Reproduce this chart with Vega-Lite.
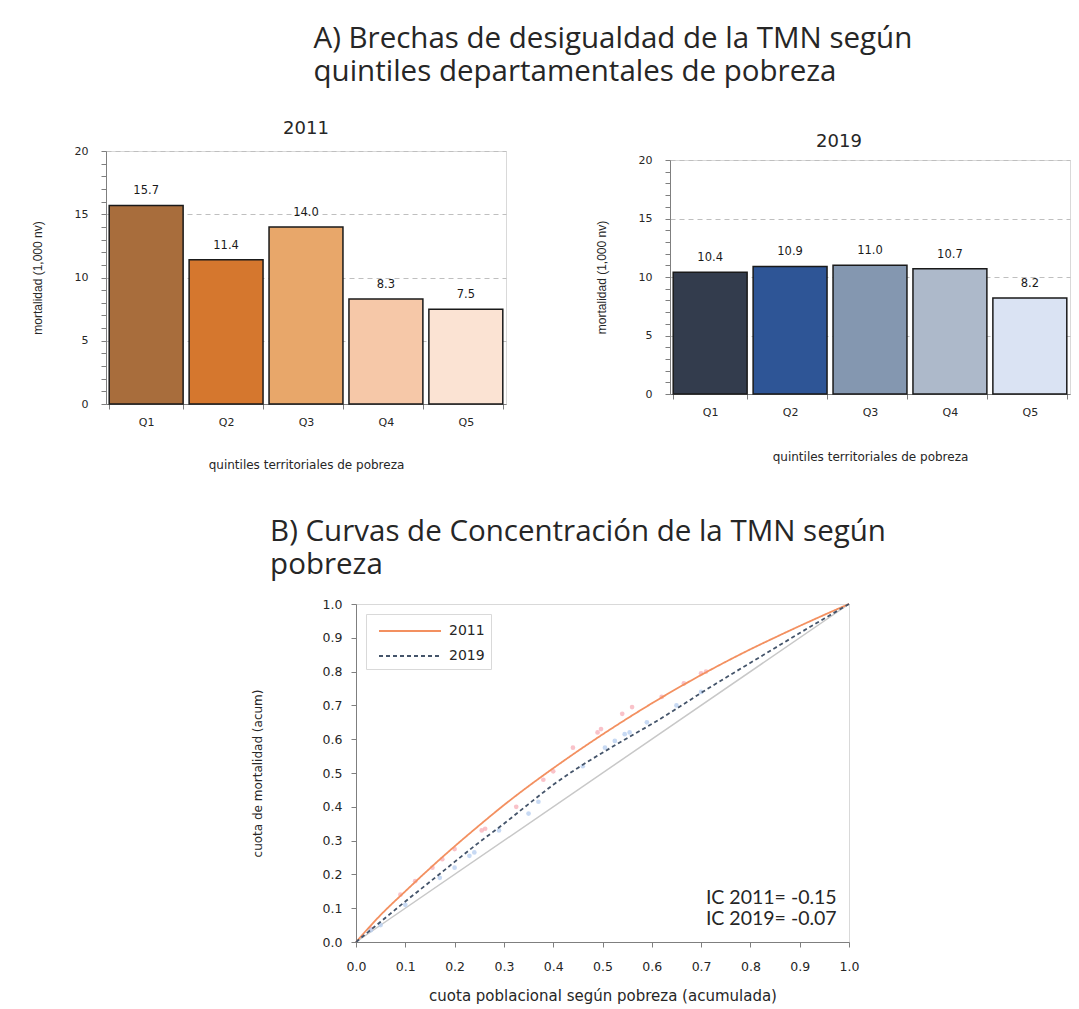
{
  "$schema": "https://vega.github.io/schema/vega-lite/v6.json",
  "background": "white",
  "padding": {"left": 30, "top": 24, "right": 0, "bottom": 0},
  "config": {
    "font": "DejaVu Sans",
    "view": {"stroke": "#d9d9d9"},
    "axis": {"domainColor": "#7f7f7f", "tickColor": "#7f7f7f", "labelColor": "#262626", "titleColor": "#262626", "labelFont": "DejaVu Sans", "titleFont": "DejaVu Sans", "titleFontWeight": "normal", "grid": false, "labelFlush": false},
    "title": {"color": "#262626", "fontWeight": "normal"}
  },
  "datasets": {
    "bars2011": [
      {"q": "Q1", "v": 15.7}, {"q": "Q2", "v": 11.4}, {"q": "Q3", "v": 14.0}, {"q": "Q4", "v": 8.3}, {"q": "Q5", "v": 7.5}
    ],
    "bars2019": [
      {"q": "Q1", "v": 10.4}, {"q": "Q2", "v": 10.9}, {"q": "Q3", "v": 11.0}, {"q": "Q4", "v": 10.7}, {"q": "Q5", "v": 8.2}
    ],
    "curves": [
      {"serie": "2011", "x": 0, "y": 0}, {"serie": "2011", "x": 0.05, "y": 0.08}, {"serie": "2011", "x": 0.1, "y": 0.15}, {"serie": "2011", "x": 0.15, "y": 0.218}, {"serie": "2011", "x": 0.2, "y": 0.283}, {"serie": "2011", "x": 0.25, "y": 0.345}, {"serie": "2011", "x": 0.3, "y": 0.405}, {"serie": "2011", "x": 0.35, "y": 0.461}, {"serie": "2011", "x": 0.4, "y": 0.514}, {"serie": "2011", "x": 0.45, "y": 0.565}, {"serie": "2011", "x": 0.5, "y": 0.614}, {"serie": "2011", "x": 0.55, "y": 0.661}, {"serie": "2011", "x": 0.6, "y": 0.706}, {"serie": "2011", "x": 0.65, "y": 0.749}, {"serie": "2011", "x": 0.7, "y": 0.79}, {"serie": "2011", "x": 0.75, "y": 0.829}, {"serie": "2011", "x": 0.8, "y": 0.866}, {"serie": "2011", "x": 0.85, "y": 0.901}, {"serie": "2011", "x": 0.9, "y": 0.935}, {"serie": "2011", "x": 0.95, "y": 0.968}, {"serie": "2011", "x": 1, "y": 1},
      {"serie": "2019", "x": 0, "y": 0}, {"serie": "2019", "x": 0.05, "y": 0.06}, {"serie": "2019", "x": 0.1, "y": 0.12}, {"serie": "2019", "x": 0.15, "y": 0.178}, {"serie": "2019", "x": 0.2, "y": 0.237}, {"serie": "2019", "x": 0.25, "y": 0.295}, {"serie": "2019", "x": 0.3, "y": 0.35}, {"serie": "2019", "x": 0.35, "y": 0.408}, {"serie": "2019", "x": 0.4, "y": 0.465}, {"serie": "2019", "x": 0.45, "y": 0.515}, {"serie": "2019", "x": 0.5, "y": 0.56}, {"serie": "2019", "x": 0.55, "y": 0.603}, {"serie": "2019", "x": 0.6, "y": 0.645}, {"serie": "2019", "x": 0.65, "y": 0.69}, {"serie": "2019", "x": 0.7, "y": 0.737}, {"serie": "2019", "x": 0.75, "y": 0.782}, {"serie": "2019", "x": 0.8, "y": 0.826}, {"serie": "2019", "x": 0.85, "y": 0.87}, {"serie": "2019", "x": 0.9, "y": 0.914}, {"serie": "2019", "x": 0.95, "y": 0.957}, {"serie": "2019", "x": 1, "y": 1}
    ],
    "pts": [
      {"serie": "2011", "x": 0.03, "y": 0.04}, {"serie": "2011", "x": 0.09, "y": 0.14}, {"serie": "2011", "x": 0.12, "y": 0.18}, {"serie": "2011", "x": 0.155, "y": 0.22}, {"serie": "2011", "x": 0.175, "y": 0.245}, {"serie": "2011", "x": 0.2, "y": 0.275}, {"serie": "2011", "x": 0.255, "y": 0.33}, {"serie": "2011", "x": 0.262, "y": 0.335}, {"serie": "2011", "x": 0.325, "y": 0.4}, {"serie": "2011", "x": 0.38, "y": 0.48}, {"serie": "2011", "x": 0.4, "y": 0.505}, {"serie": "2011", "x": 0.44, "y": 0.575}, {"serie": "2011", "x": 0.49, "y": 0.62}, {"serie": "2011", "x": 0.497, "y": 0.63}, {"serie": "2011", "x": 0.54, "y": 0.675}, {"serie": "2011", "x": 0.56, "y": 0.695}, {"serie": "2011", "x": 0.62, "y": 0.725}, {"serie": "2011", "x": 0.665, "y": 0.765}, {"serie": "2011", "x": 0.7, "y": 0.795}, {"serie": "2011", "x": 0.71, "y": 0.8},
      {"serie": "2019", "x": 0.03, "y": 0.035}, {"serie": "2019", "x": 0.05, "y": 0.05}, {"serie": "2019", "x": 0.1, "y": 0.11}, {"serie": "2019", "x": 0.17, "y": 0.19}, {"serie": "2019", "x": 0.2, "y": 0.22}, {"serie": "2019", "x": 0.23, "y": 0.255}, {"serie": "2019", "x": 0.24, "y": 0.265}, {"serie": "2019", "x": 0.29, "y": 0.33}, {"serie": "2019", "x": 0.35, "y": 0.38}, {"serie": "2019", "x": 0.37, "y": 0.415}, {"serie": "2019", "x": 0.46, "y": 0.52}, {"serie": "2019", "x": 0.505, "y": 0.575}, {"serie": "2019", "x": 0.525, "y": 0.595}, {"serie": "2019", "x": 0.545, "y": 0.615}, {"serie": "2019", "x": 0.555, "y": 0.62}, {"serie": "2019", "x": 0.59, "y": 0.65}, {"serie": "2019", "x": 0.65, "y": 0.7}, {"serie": "2019", "x": 0.7, "y": 0.74}
    ],
    "ic": [
      {"t": "IC 2011= -0.15", "k": 1}, {"t": "IC 2019= -0.07", "k": 2}
    ]
  },
  "spacing": 45,
  "resolve": {"scale": {"fill": "independent", "color": "independent", "strokeDash": "independent"}, "legend": {"fill": "independent", "color": "independent", "strokeDash": "independent"}},
  "vconcat": [
    {
      "title": {"text": ["A) Brechas de desigualdad de la TMN según", "quintiles departamentales de pobreza"], "anchor": "start", "dx": 283, "font": "Open Sans", "fontSize": 29.5, "lineHeight": 33, "offset": 32},
      "spacing": 87,
      "resolve": {"scale": {"fill": "independent"}, "legend": {"fill": "independent"}},
      "hconcat": [
        {
          "vconcat": [
            {
              "width": 400,
              "height": 253,
              "title": {"text": "2011", "fontSize": 18, "offset": 7},
              "data": {"name": "bars2011"},
              "encoding": {
                "x": {"field": "q", "type": "nominal", "scale": {"paddingInner": 0.075, "paddingOuter": 0.04}, "axis": {"labelAngle": 0, "title": "quintiles territoriales de pobreza", "tickBand": "extent", "tickSize": 5, "labelPadding": 7, "titlePadding": 32, "titleFontSize": 12, "labelFontSize": 11}},
                "y": {"field": "v", "type": "quantitative", "scale": {"domain": [0, 20]}, "axis": {"values": [0,1,2,3,4,5,6,7,8,9,10,11,12,13,14,15,16,17,18,19,20], "labelExpr": "datum.value % 5 === 0 ? datum.label : ''", "title": "mortalidad  (1,000 nv)", "titleFont": "Liberation Sans", "titleFontSize": 12, "grid": true, "gridDash": [5, 4], "gridColor": "#bfbfbf", "gridOpacity": {"condition": {"test": "datum.value % 5 === 0", "value": 1}, "value": 0}, "tickSize": 5, "labelPadding": 13, "labelFontSize": 11, "titlePadding": 30}}
              },
              "layer": [
                {"mark": {"type": "bar", "stroke": "#1a1a1a", "strokeWidth": 1.5}, "encoding": {"fill": {"field": "q", "type": "nominal", "scale": {"domain": ["Q1","Q2","Q3","Q4","Q5"], "range": ["#a86d3c", "#d5772e", "#e8a76a", "#f6c8a8", "#fbe3d3"]}, "legend": null}}},
                {"mark": {"type": "text", "dy": -14, "fontSize": 11.5, "color": "#1a1a1a"}, "encoding": {"text": {"field": "v", "type": "quantitative", "format": ".1f"}}}
              ]
            }
          ]
        },
        {
          "spacing": 1,
          "vconcat": [
            {"width": 400, "height": 1, "title": {"text": "2019", "fontSize": 18, "offset": 0, "dx": -31}, "data": {"values": []}, "mark": "point", "view": {"stroke": null}},
            {
              "width": 400,
              "height": 234,
              "data": {"name": "bars2019"},
              "encoding": {
                "x": {"field": "q", "type": "nominal", "scale": {"paddingInner": 0.075, "paddingOuter": 0.04}, "axis": {"labelAngle": 0, "title": "quintiles territoriales de pobreza", "tickBand": "extent", "tickSize": 5, "labelPadding": 7, "titlePadding": 34, "titleFontSize": 12, "labelFontSize": 11}},
                "y": {"field": "v", "type": "quantitative", "scale": {"domain": [0, 20]}, "axis": {"values": [0,1,2,3,4,5,6,7,8,9,10,11,12,13,14,15,16,17,18,19,20], "labelExpr": "datum.value % 5 === 0 ? datum.label : ''", "title": "mortalidad  (1,000 nv)", "titleFont": "Liberation Sans", "titleFontSize": 12, "grid": true, "gridDash": [5, 4], "gridColor": "#bfbfbf", "gridOpacity": {"condition": {"test": "datum.value % 5 === 0", "value": 1}, "value": 0}, "tickSize": 5, "labelPadding": 13, "labelFontSize": 11, "titlePadding": 30}}
              },
              "layer": [
                {"mark": {"type": "bar", "stroke": "#1a1a1a", "strokeWidth": 1.5}, "encoding": {"fill": {"field": "q", "type": "nominal", "scale": {"domain": ["Q1","Q2","Q3","Q4","Q5"], "range": ["#333c4d", "#2e5596", "#8497b0", "#adb9ca", "#dae3f3"]}, "legend": null}}},
                {"mark": {"type": "text", "dy": -14, "fontSize": 11.5, "color": "#1a1a1a"}, "encoding": {"text": {"field": "v", "type": "quantitative", "format": ".1f"}}}
              ]
            }
          ]
        }
      ]
    },
    {
      "spacing": 20,
      "resolve": {"scale": {"color": "independent", "strokeDash": "independent"}, "legend": {"color": "independent", "strokeDash": "independent"}},
      "hconcat": [
        {"width": 124, "height": 1, "data": {"values": []}, "mark": "point", "view": {"stroke": null}},
        {
          "width": 493,
          "height": 338,
          "title": {"text": ["B) Curvas de Concentración de la TMN según", "pobreza"], "anchor": "start", "dx": 19, "font": "Open Sans", "fontSize": 29.5, "lineHeight": 33, "offset": 18},
          "layer": [
            {"data": {"values": [{"x": 0, "y": 0}, {"x": 1, "y": 1}]}, "mark": {"type": "line", "color": "#c8c8c8", "strokeWidth": 1.5},
             "encoding": {
               "x": {"field": "x", "type": "quantitative", "title": "cuota poblacional según pobreza (acumulada)", "scale": {"domain": [0, 1], "nice": false}, "axis": {"values": [0,0.1,0.2,0.3,0.4,0.5,0.6,0.7,0.8,0.9,1], "format": ".1f", "titleFontSize": 15, "titlePadding": 16, "labelFontSize": 12.5, "tickSize": 5, "labelPadding": 13, "labelOverlap": false}},
               "y": {"field": "y", "type": "quantitative", "title": "cuota de mortalidad (acum)", "scale": {"domain": [0, 1], "nice": false}, "axis": {"values": [0,0.1,0.2,0.3,0.4,0.5,0.6,0.7,0.8,0.9,1], "format": ".1f", "titleFontSize": 12, "titlePadding": 58, "labelFontSize": 12.5, "tickSize": 5, "labelPadding": 9, "labelOverlap": false}}
             }},
            {"data": {"name": "pts"}, "transform": [{"filter": "datum.serie === '2011'"}], "mark": {"type": "circle", "size": 22, "color": "#f7b3bb", "opacity": 0.8},
             "encoding": {
               "x": {"field": "x", "type": "quantitative", "title": "cuota poblacional según pobreza (acumulada)", "axis": {"values": [0,0.1,0.2,0.3,0.4,0.5,0.6,0.7,0.8,0.9,1], "format": ".1f", "titleFontSize": 15, "titlePadding": 16, "labelFontSize": 12.5, "tickSize": 5, "labelPadding": 13, "labelOverlap": false}},
               "y": {"field": "y", "type": "quantitative", "title": "cuota de mortalidad (acum)", "axis": {"values": [0,0.1,0.2,0.3,0.4,0.5,0.6,0.7,0.8,0.9,1], "format": ".1f", "titleFontSize": 12, "titlePadding": 58, "labelFontSize": 12.5, "tickSize": 5, "labelPadding": 9, "labelOverlap": false}}
             }},
            {"data": {"name": "pts"}, "transform": [{"filter": "datum.serie === '2019'"}], "mark": {"type": "circle", "size": 22, "color": "#b9d0f0", "opacity": 0.8},
             "encoding": {
               "x": {"field": "x", "type": "quantitative", "title": "cuota poblacional según pobreza (acumulada)", "axis": {"values": [0,0.1,0.2,0.3,0.4,0.5,0.6,0.7,0.8,0.9,1], "format": ".1f", "titleFontSize": 15, "titlePadding": 16, "labelFontSize": 12.5, "tickSize": 5, "labelPadding": 13, "labelOverlap": false}},
               "y": {"field": "y", "type": "quantitative", "title": "cuota de mortalidad (acum)", "axis": {"values": [0,0.1,0.2,0.3,0.4,0.5,0.6,0.7,0.8,0.9,1], "format": ".1f", "titleFontSize": 12, "titlePadding": 58, "labelFontSize": 12.5, "tickSize": 5, "labelPadding": 9, "labelOverlap": false}}
             }},
            {"data": {"name": "curves"}, "mark": {"type": "line", "interpolate": "monotone", "strokeWidth": 1.8},
             "encoding": {
               "x": {"field": "x", "type": "quantitative", "title": "cuota poblacional según pobreza (acumulada)", "axis": {"values": [0,0.1,0.2,0.3,0.4,0.5,0.6,0.7,0.8,0.9,1], "format": ".1f", "titleFontSize": 15, "titlePadding": 16, "labelFontSize": 12.5, "tickSize": 5, "labelPadding": 13, "labelOverlap": false}},
               "y": {"field": "y", "type": "quantitative", "title": "cuota de mortalidad (acum)", "axis": {"values": [0,0.1,0.2,0.3,0.4,0.5,0.6,0.7,0.8,0.9,1], "format": ".1f", "titleFontSize": 12, "titlePadding": 58, "labelFontSize": 12.5, "tickSize": 5, "labelPadding": 9, "labelOverlap": false}},
               "color": {"field": "serie", "type": "nominal", "scale": {"domain": ["2011", "2019"], "range": ["#f39060", "#44546a"]}, "legend": {"orient": "top-left", "title": null, "symbolType": "M-0.4,0H5.8", "symbolSize": 400, "symbolStrokeWidth": 2, "labelFontSize": 14, "labelOffset": 55, "labelColor": "#262626", "strokeColor": "#d9d9d9", "fillColor": "white", "padding": 6, "offset": 10, "rowPadding": 7}},
               "strokeDash": {"field": "serie", "type": "nominal", "scale": {"domain": ["2011", "2019"], "range": [[1, 0], [4, 3]]}}
             }},
            {"data": {"name": "ic"}, "transform": [{"filter": "datum.k === 1"}], "mark": {"type": "text", "align": "right", "font": "Lato", "fontSize": 19.5, "color": "#262626"},
             "encoding": {
               "x": {"datum": 0.975, "type": "quantitative", "title": "cuota poblacional según pobreza (acumulada)", "axis": {"values": [0,0.1,0.2,0.3,0.4,0.5,0.6,0.7,0.8,0.9,1], "format": ".1f", "titleFontSize": 15, "titlePadding": 16, "labelFontSize": 12.5, "tickSize": 5, "labelPadding": 13, "labelOverlap": false}},
               "y": {"datum": 0.13, "type": "quantitative", "title": "cuota de mortalidad (acum)", "axis": {"values": [0,0.1,0.2,0.3,0.4,0.5,0.6,0.7,0.8,0.9,1], "format": ".1f", "titleFontSize": 12, "titlePadding": 58, "labelFontSize": 12.5, "tickSize": 5, "labelPadding": 9, "labelOverlap": false}},
               "text": {"field": "t", "type": "nominal"}}},
            {"data": {"name": "ic"}, "transform": [{"filter": "datum.k === 2"}], "mark": {"type": "text", "align": "right", "font": "Lato", "fontSize": 19.5, "color": "#262626"},
             "encoding": {
               "x": {"datum": 0.975, "type": "quantitative", "title": "cuota poblacional según pobreza (acumulada)", "axis": {"values": [0,0.1,0.2,0.3,0.4,0.5,0.6,0.7,0.8,0.9,1], "format": ".1f", "titleFontSize": 15, "titlePadding": 16, "labelFontSize": 12.5, "tickSize": 5, "labelPadding": 13, "labelOverlap": false}},
               "y": {"datum": 0.068, "type": "quantitative", "title": "cuota de mortalidad (acum)", "axis": {"values": [0,0.1,0.2,0.3,0.4,0.5,0.6,0.7,0.8,0.9,1], "format": ".1f", "titleFontSize": 12, "titlePadding": 58, "labelFontSize": 12.5, "tickSize": 5, "labelPadding": 9, "labelOverlap": false}},
               "text": {"field": "t", "type": "nominal"}}}
          ]
        }
      ]
    }
  ]
}
